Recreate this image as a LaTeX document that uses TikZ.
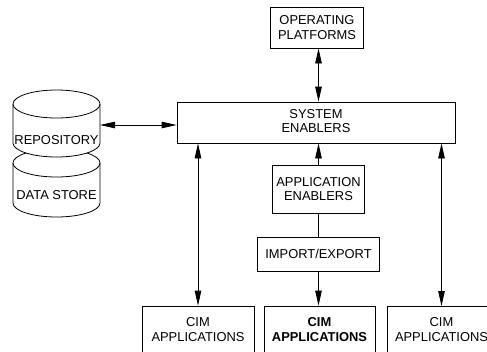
\documentclass[tikz,border=0pt]{standalone}
\usepackage{fontspec}
\setmainfont{Liberation Sans}
\usetikzlibrary{arrows.meta}
\begin{document}
\begin{tikzpicture}[x=1pt,y=1pt,
  line width=0.8pt,
  txt/.style={font=\fontsize{12.9}{14.5}\selectfont, align=center, inner sep=0pt},
  box/.style={draw, fill=white, txt, minimum width=#1},
  both/.style={{Triangle[length=15pt,width=6.5pt]}-{Triangle[length=15pt,width=6.5pt]}},
  toend/.style={-{Triangle[length=15pt,width=6.5pt]}}
]
\clip (0,0) rectangle (487,-351);
\fill[white] (0,0) rectangle (487,-351);

% boxes
\node[box=93pt, minimum height=41pt] (op) at (317,-27.5) {OPERATING\\PLATFORMS};
\node[box=278pt, minimum height=41pt] (se) at (316,-122.5) {SYSTEM\\ENABLERS\vphantom{p}};
\node[box=92pt, minimum height=48pt] (ae) at (318.5,-189) {APPLICATION\\ENABLERS};
\node[box=122pt, minimum height=34pt] (ie) at (318.5,-254) {IMPORT/EXPORT};
\node[box=112pt, minimum height=47pt] (cim1) at (198,-329.5) {CIM\\APPLICATIONS};
\node[box=111pt, minimum height=47pt, font=\fontsize{12.9}{14.5}\selectfont\bfseries] (cim2) at (319.5,-329.5) {CIM\\APPLICATIONS};
% right box runs off the picture's right edge
\draw (500,-306) -- (387,-306) -- (387,-360);
\coordinate (cim3top) at (441.5,-306);
\node[txt] (cim3) at (441.5,-329.5) {CIM\\APPLICATIONS};

% cylinders: data store (behind) then repository
\draw[fill=white] (13,-163) -- (13,-203) arc[start angle=180,end angle=360,x radius=43.5,y radius=14]
  -- (100,-163) arc[start angle=0,end angle=180,x radius=43.5,y radius=14] -- cycle;
\draw (13,-163) arc[start angle=180,end angle=360,x radius=43.5,y radius=14];
\draw[fill=white] (13,-104) -- (13,-143) arc[start angle=180,end angle=360,x radius=43.5,y radius=14]
  -- (100,-104) arc[start angle=0,end angle=180,x radius=43.5,y radius=14] -- cycle;
\draw (13,-104) arc[start angle=180,end angle=360,x radius=43.5,y radius=14];
\node[txt] (rep) at (56.5,-140) {REPOSITORY};
\node[txt] (ds) at (56.5,-195) {DATA STORE};
\coordinate (repE) at (100,-125);

% connectors
\draw[both] (repE) -- (se.west |- repE);
\draw[both] (op.south -| ae) -- (se.north -| ae);
\draw[toend] (ae.north) -- (se.south -| ae);
\draw (ae.south) -- (ie.north -| ae);
\draw[toend] (ie.south -| ae) -- (cim2.north -| ae);
\draw[both] (se.south -| cim1) -- (cim1.north);
\draw[both] (se.south -| cim3top) -- (cim3top);
\end{tikzpicture}
\end{document}
